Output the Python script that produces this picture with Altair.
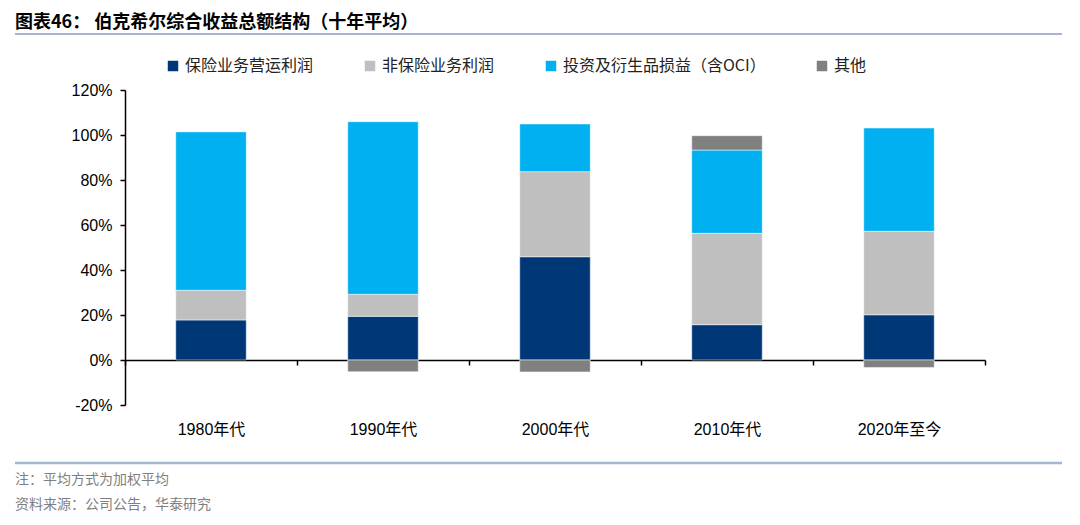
import pandas as pd
import altair as alt

# decade buckets and the four income components (% of total comprehensive income)
DECADES = ["1980年代", "1990年代", "2000年代", "2010年代", "2020年至今"]
SERIES = ["保险业务营运利润", "非保险业务利润", "投资及衍生品损益（含OCI）", "其他"]
COLORS = ["#003777", "#BFBFBF", "#00B0F0", "#808080"]

INSURANCE_OP = [17.8, 19.4, 45.9, 15.7, 20.1]
NON_INSURANCE = [13.2, 9.8, 37.8, 40.6, 37.1]
INVESTMENT = [70.5, 76.7, 21.2, 37.0, 45.9]
OTHER = [0.0, -5.2, -5.3, 6.4, -3.3]

TITLE = "图表46：  伯克希尔综合收益总额结构（十年平均）"
NOTE = "注：平均方式为加权平均"
SOURCE = "资料来源：公司公告，华泰研究"

CJK = "Noto Sans CJK SC"
NUM = "Liberation Sans, Noto Sans CJK SC"

W, H = 860, 315

rows = []
for i, d in enumerate(DECADES):
    for k, (s, vals) in enumerate(zip(SERIES, [INSURANCE_OP, NON_INSURANCE, INVESTMENT, OTHER])):
        rows.append({"decade": d, "series": s, "value": vals[i], "order": k})
df = pd.DataFrame(rows)

# bands fill each step so that the category ticks fall between the decades
bars = alt.Chart(df).mark_bar(
    stroke="white", strokeWidth=0.5, width=alt.RelativeBandSize(0.41)
).encode(
    x=alt.X(
        "decade:N",
        sort=DECADES,
        title=None,
        scale=alt.Scale(paddingInner=0, paddingOuter=0),
        axis=alt.Axis(
            orient="bottom",
            offset=-45,
            domainColor="black",
            domainWidth=1.5,
            tickColor="black",
            tickSize=5,
            tickWidth=1.5,
            tickBand="extent",
            labelAngle=0,
            labelPadding=56,
            labelFont=NUM,
            labelFontSize=16,
            labelColor="#000000",
        ),
    ),
    y=alt.Y(
        "value:Q",
        stack="zero",
        title=None,
        scale=alt.Scale(domain=[-20, 120], nice=False),
        axis=alt.Axis(
            values=[-20, 0, 20, 40, 60, 80, 100, 120],
            labelExpr="datum.value + '%'",
            grid=False,
            domainColor="black",
            domainWidth=1.5,
            tickColor="black",
            tickSize=5,
            tickWidth=1.5,
            labelPadding=8,
            labelFont=NUM,
            labelFontSize=16,
            labelColor="#000000",
        ),
    ),
    color=alt.Color(
        "series:N",
        scale=alt.Scale(domain=SERIES, range=COLORS),
        legend=alt.Legend(
            title=None,
            orient="none",
            direction="horizontal",
            legendX=40,
            legendY=-32,
            symbolType="square",
            symbolSize=110,
            symbolStrokeWidth=0,
            labelFont=CJK,
            labelFontSize=16,
            labelLimit=0,
            labelColor="#222222",
            columnPadding=48,
        ),
    ),
    order=alt.Order("order:Q"),
)

one = pd.DataFrame({"t": [0]})

title = alt.Chart(one).mark_text(
    text=TITLE, align="left", baseline="middle", font=CJK, fontSize=18, fontWeight="bold", color="#000000"
).encode(x=alt.value(-110), y=alt.value(-67))

top_line = alt.Chart(one).mark_rule(color="#A3B7D1", strokeWidth=2).encode(
    x=alt.value(-110), x2=alt.value(937), y=alt.value(-56)
)
bottom_line = alt.Chart(one).mark_rule(color="#A3B7D1", strokeWidth=2.5).encode(
    x=alt.value(-110), x2=alt.value(937), y=alt.value(373)
)

note = alt.Chart(one).mark_text(
    text=NOTE, align="left", baseline="middle", font=CJK, fontSize=14, color="#7F7F7F"
).encode(x=alt.value(-110), y=alt.value(390))
source = alt.Chart(one).mark_text(
    text=SOURCE, align="left", baseline="middle", font=CJK, fontSize=14, color="#7F7F7F"
).encode(x=alt.value(-110), y=alt.value(415))

chart = alt.layer(bars, title, top_line, bottom_line, note, source).properties(
    width=W,
    height=H,
    autosize=alt.AutoSizeParams(type="none"),
    padding={"left": 117, "top": 82, "right": 87, "bottom": 112},
).configure_view(stroke=None)

chart.save("out.html", embed_options={"renderer": "svg", "actions": False})
